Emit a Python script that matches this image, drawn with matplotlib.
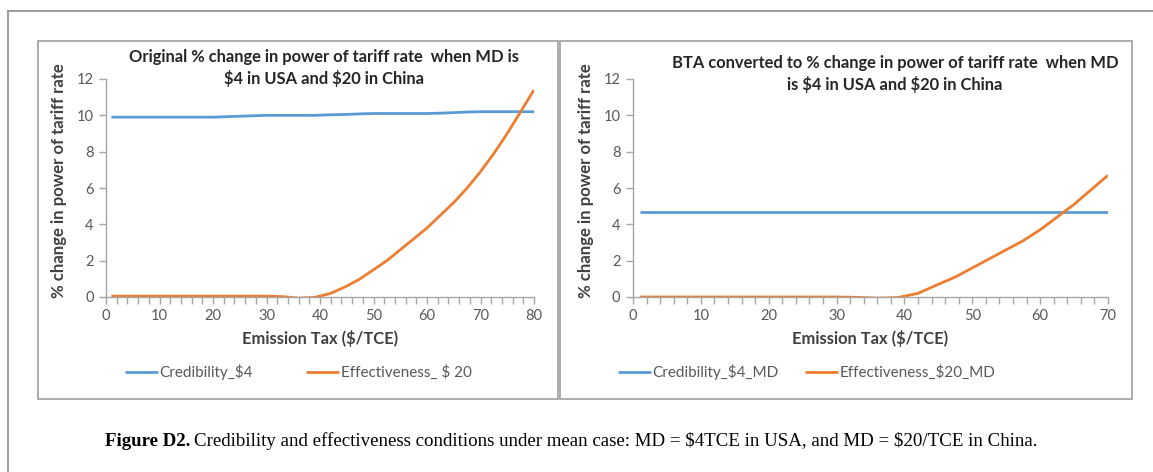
import matplotlib
matplotlib.use("Agg")
import matplotlib.pyplot as plt
from matplotlib.lines import Line2D
from matplotlib.patches import Rectangle
from matplotlib.ticker import MultipleLocator

plt.rcParams["text.parse_math"] = False

# data
tax_left = [1, 5, 10, 15, 20, 25, 30, 33, 36, 39, 42, 45, 47.5, 50, 52.5, 55, 57.5, 60,
            62.5, 65, 67.5, 70, 72.5, 75, 77.5, 80]
cred_left = [9.9, 9.9, 9.9, 9.9, 9.9, 9.95, 10.0, 10.0, 10.0, 10.0, 10.03, 10.05, 10.08,
             10.1, 10.1, 10.1, 10.1, 10.1, 10.12, 10.15, 10.18, 10.2, 10.2, 10.2, 10.2, 10.2]
eff_left = [0.05, 0.05, 0.05, 0.05, 0.05, 0.05, 0.05, 0.02, -0.06, -0.02, 0.2, 0.6, 1.0,
            1.5, 2.0, 2.6, 3.2, 3.8, 4.5, 5.2, 6.0, 6.9, 7.9, 9.0, 10.2, 11.4]

tax_right = [1, 5, 10, 15, 20, 25, 30, 33, 36, 39, 42, 45, 47.5, 50, 52.5, 55, 57.5, 60,
             62.5, 65, 67.5, 70]
cred_right = [4.7] * len(tax_right)
eff_right = [0.0, 0.0, 0.0, 0.0, 0.0, 0.0, 0.0, -0.02, -0.06, -0.03, 0.2, 0.7, 1.1,
             1.6, 2.1, 2.6, 3.1, 3.7, 4.4, 5.1, 5.9, 6.7]

titles = ["Original % change in power of tariff rate  when MD is\n$4 in USA and $20 in China",
          "BTA converted to % change in power of tariff rate  when MD\nis $4 in USA and $20 in China"]
labels_left = ["Credibility_$4", "Effectiveness_ $ 20"]
labels_right = ["Credibility_$4_MD", "Effectiveness_$20_MD"]

BLUE = "#5B9BD5"
ORANGE = "#ED7D31"
GREY = "#595959"
FONT = "Lato"

W, H = 1153, 472
fig = plt.figure(figsize=(W / 100, H / 100), dpi=100)


def px(x0, y0, x1, y1):
    # pixel box -> figure fraction rect
    return [x0 / W, 1 - y1 / H, (x1 - x0) / W, (y1 - y0) / H]


# outer frame (top and left edge only)
fig.add_artist(Line2D([8 / W, 1], [1 - 11 / H] * 2, color="#8c8c8c", lw=1.2))
fig.add_artist(Line2D([8 / W] * 2, [0, 1 - 11 / H], color="#8c8c8c", lw=1.2))

# chart boxes
for x0, x1 in [(38, 558), (560, 1132)]:
    r = px(x0, 41, x1, 399)
    fig.add_artist(Rectangle((r[0], r[1]), r[2], r[3], transform=fig.transFigure,
                             fill=False, edgecolor="#a6a6a6", lw=1.3))

# (axes box, x, series, xmax, title, labels, title centre, ylabel x, legend x, col gap)
panels = [
    ((106, 534), tax_left, cred_left, eff_left, 80, titles[0], labels_left,
     (324, 57), 59, 125, 3.5),
    ((633, 1108), tax_right, cred_right, eff_right, 70, titles[1], labels_right,
     (895, 63), 586, 618, 1.75),
]

for (ax0, ax1), x, cred, eff, xmax, title, labels, tpos, ylx, legx, colgap in panels:
    ax = fig.add_axes(px(ax0, 79, ax1, 297))
    l1, = ax.plot(x, cred, color=BLUE, lw=2.0, solid_capstyle="butt")
    l2, = ax.plot(x, eff, color=ORANGE, lw=2.0, solid_capstyle="butt")
    ax.set_xlim(0, xmax)
    ax.set_ylim(0, 12)
    ax.xaxis.set_major_locator(MultipleLocator(10))
    ax.xaxis.set_minor_locator(MultipleLocator(2))
    ax.yaxis.set_major_locator(MultipleLocator(2))
    for s in ["top", "right"]:
        ax.spines[s].set_visible(False)
    for s in ["left", "bottom"]:
        ax.spines[s].set_color("#a6a6a6")
        ax.spines[s].set_linewidth(1.0)
    ax.tick_params(axis="both", which="both", colors="#a6a6a6", labelcolor=GREY,
                   labelsize=10.5, width=1.0)
    ax.tick_params(axis="x", which="both", length=5, pad=4)
    ax.tick_params(axis="y", length=5, pad=4)
    for t in ax.get_xticklabels() + ax.get_yticklabels():
        t.set_fontfamily(FONT)
    ax.set_xlabel("Emission Tax ($/TCE)", fontfamily=FONT, fontweight="bold",
                  fontsize=11.9, color="#404040", labelpad=5)
    fig.text(ylx / W, 1 - 181 / H, "% change in power of tariff rate", rotation=90,
             ha="center", va="center", fontfamily=FONT, fontweight="bold",
             fontsize=12.1, color="#404040")
    fig.text(tpos[0] / W, 1 - (tpos[1] + 11) / H, title, ha="center", va="center",
             fontfamily=FONT, fontweight="bold", fontsize=11.9, color="#262626",
             linespacing=1.3)
    ax.legend([l1, l2], labels, loc="center left", ncol=2, frameon=False,
              bbox_to_anchor=((legx - ax0) / (ax1 - ax0), (297 - 372) / (297 - 79)),
              borderaxespad=0, borderpad=0,
              prop={"family": FONT, "size": 11}, labelcolor=GREY,
              handlelength=2.15, handletextpad=0.1, columnspacing=colgap)

# caption
cap_y = 1 - 441 / H
t1 = fig.text(105 / W, cap_y, "Figure D2.", ha="left", va="center",
              fontfamily="Liberation Serif", fontweight="bold", fontsize=13.6)
fig.canvas.draw()
bb = t1.get_window_extent()
fig.text((bb.x1 + 4) / W, cap_y,
         "Credibility and effectiveness conditions under mean case: MD = $4TCE in USA, "
         "and MD = $20/TCE in China.",
         ha="left", va="center", fontfamily="Liberation Serif", fontsize=13.6)

fig.savefig("out.png", dpi=100)
